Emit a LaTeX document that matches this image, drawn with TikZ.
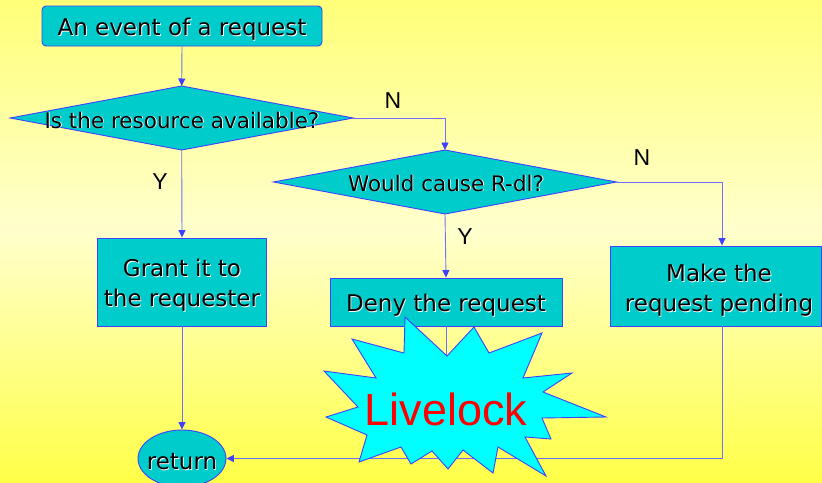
\documentclass[tikz,border=0pt]{standalone}
\usepackage{fontspec}
\setmainfont{DejaVu Sans}
\newfontfamily\arialf{Liberation Sans}
\usetikzlibrary{shapes.geometric,arrows.meta}

\definecolor{boxfill}{RGB}{0,204,204}
\definecolor{edgeblue}{RGB}{64,64,255}
\definecolor{linkblue}{RGB}{112,112,255}
\definecolor{burstfill}{RGB}{0,255,255}
\definecolor{bgtop}{RGB}{255,255,120}
\definecolor{bgmid}{RGB}{255,255,205}
\definecolor{bgbot}{RGB}{255,255,72}

% black text with a thin white drop shadow
\newcommand\embossed[1]{\leavevmode\rlap{\kern0.9pt\raisebox{-0.9pt}{\color{white}#1}}#1}

\tikzset{
  flowbox/.style={draw=edgeblue, fill=boxfill, line width=0.9pt, inner sep=0pt},
  decision/.style={diamond, draw=edgeblue, fill=boxfill, line width=0.9pt,
    inner sep=0pt, outer sep=0pt},
  terminal/.style={ellipse, draw=edgeblue, fill=boxfill, line width=0.9pt,
    inner sep=0pt},
  boxtext/.style={font=\fontsize{23}{30}\selectfont, align=center, inner sep=0pt},
  asktext/.style={font=\fontsize{21.5}{26}\selectfont, inner sep=0pt},
  branch/.style={font=\arialf\fontsize{23}{26}\selectfont, inner sep=0pt},
  link/.style={draw=linkblue, line width=0.9pt},
  tip/.style={-{Triangle[length=7.5pt,width=7pt,color=edgeblue]}},
}

\begin{document}
\begin{tikzpicture}[x=1pt,y=-1pt]
  % background
  \useasboundingbox (0,0) rectangle (822,482);
  \shade[top color=bgtop, bottom color=bgmid] (0,0) rectangle (822,230);
  \shade[top color=bgmid, bottom color=bgbot] (0,229.5) rectangle (822,482);

  % boxes and decisions
  \node[flowbox, rounded corners=4pt, minimum width=280, minimum height=40]
    (start) at (182,26) {};
  \node[boxtext] (starttxt) at (182,30) {\embossed{An event of a request}};

  \node[decision, minimum width=343, minimum height=64] (avail) at (181.7,118) {};
  \node[asktext] (availtxt) at (182,120.5) {\embossed{Is the resource available?}};

  \node[decision, minimum width=343, minimum height=64] (rdl) at (445,182) {};
  \node[asktext] (rdltxt) at (446,183.5) {\embossed{Would cause R-dl?}};

  \node[flowbox, minimum width=169, minimum height=88] (grant) at (182,282) {};
  \node[boxtext] (granttxt) at (182,286)
    {\embossed{Grant it to}\\\embossed{the requester}};

  \node[flowbox, minimum width=232, minimum height=48] (deny) at (446,302) {};
  \node[boxtext] (denytxt) at (446,306) {\embossed{Deny the request}};

  \node[flowbox, minimum width=211, minimum height=80] (pend) at (715.5,286) {};
  \node[boxtext] (pendtxt) at (719,291)
    {\embossed{Make the}\\\embossed{request pending}};

  \node[terminal, minimum width=88, minimum height=57] (ret) at (182,458.5) {};
  \node[boxtext] (rettxt) at (182,462) {\embossed{return}};

  % connectors
  \draw[link, tip] (start.south) -- (avail.north);
  \draw[link, tip] (avail.east) -| (rdl.north);
  \draw[link, tip] (avail.south) -- (grant.north);
  \draw[link, tip] (rdl.south) -- (deny.north);
  \draw[link, tip] (rdl.east) -| ([xshift=6.5]pend.north);
  \draw[link, tip] (grant.south) -- (ret.north);
  \draw[link] (deny.south) -- (deny.south |- ret.east);
  \draw[link, tip] ([xshift=6.5]pend.south) |- (ret.east);

  % branch labels
  \node[branch] (n1) at (393,101) {N};
  \node[branch] (y1) at (160,182) {Y};
  \node[branch] (y2) at (465,237) {Y};
  \node[branch] (n2) at (642,158) {N};

  % starburst
  \draw[draw=edgeblue, fill=burstfill, line width=0.9pt, line join=miter]
    (405,317) -- (447,356) -- (474,327) -- (489,353) -- (542,333) -- (523,378)
    -- (572,373) -- (543,392) -- (606,417) -- (542,418) -- (551,439) -- (525,437)
    -- (546,476) -- (498,447) -- (493,473) -- (463,450) -- (448,469) -- (432,451)
    -- (411,464) -- (401,447) -- (359,462) -- (367,435) -- (326,417) -- (358,407)
    -- (324,371) -- (376,378) -- (352,339) -- (404,353) -- cycle;
  \node[anchor=base, text=red, font=\arialf\fontsize{45}{50}\selectfont, inner sep=0pt]
    (live) at (446,425) {Livelock};
\end{tikzpicture}
\end{document}
